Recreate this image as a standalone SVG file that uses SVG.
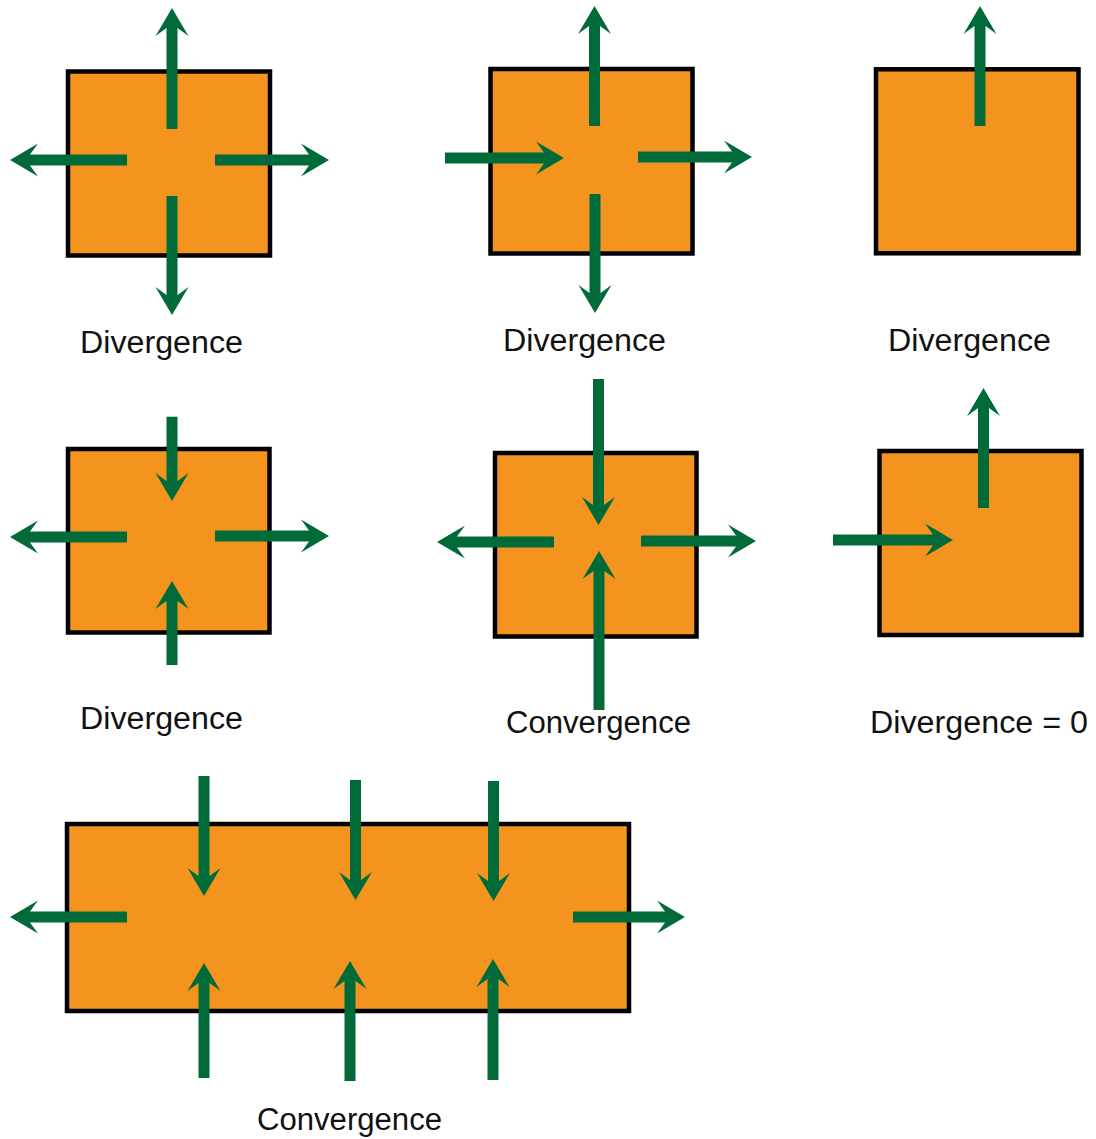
<svg xmlns="http://www.w3.org/2000/svg" width="1096" height="1139" viewBox="0 0 1096 1139">
  <style>
    .box { fill: #f4941f; stroke: #000; stroke-width: 4.5; }
    .lbl { font-family: "Liberation Sans", Arial, sans-serif; font-size: 31px; fill: #111; }
    .flow { stroke: #006b38; stroke-width: 11; stroke-linecap: butt; fill: none; marker-end: url(#head); }
  </style>
  <defs>
    <!-- swept-back arrowhead, tip 16px beyond the line end -->
    <marker id="head" markerUnits="userSpaceOnUse" markerWidth="30" markerHeight="36" viewBox="0 -18 30 36" refX="12" refY="0" orient="auto">
      <path d="M28 0 L0 -16.5 L12 0 L0 16.5 Z" fill="#006b38"/>
    </marker>
  </defs>
  <rect width="1096" height="1139" fill="#fff"/>

  <g id="div-all-out">
    <rect class="box" x="68" y="71.5" width="202" height="184"/>
    <text class="lbl" x="80" y="353" textLength="163" lengthAdjust="spacingAndGlyphs">Divergence</text>
  </g>
  <g id="div-one-in">
    <rect class="box" x="490.5" y="69" width="202" height="184.5"/>
    <text class="lbl" x="503" y="351" textLength="163" lengthAdjust="spacingAndGlyphs">Divergence</text>
  </g>
  <g id="div-one-out">
    <rect class="box" x="876" y="69.3" width="202.5" height="184"/>
    <text class="lbl" x="888" y="351" textLength="163" lengthAdjust="spacingAndGlyphs">Divergence</text>
  </g>
  <g id="div-two-in">
    <rect class="box" x="68" y="449" width="201.5" height="183.5"/>
    <text class="lbl" x="80" y="729" textLength="163" lengthAdjust="spacingAndGlyphs">Divergence</text>
  </g>
  <g id="conv-strong-in">
    <rect class="box" x="495" y="453" width="201.5" height="183.5"/>
    <text class="lbl" x="506" y="733" textLength="185" lengthAdjust="spacingAndGlyphs">Convergence</text>
  </g>
  <g id="div-zero">
    <rect class="box" x="879.5" y="451" width="202" height="184"/>
    <text class="lbl" x="870" y="733" textLength="218" lengthAdjust="spacingAndGlyphs">Divergence = 0</text>
  </g>
  <g id="conv-wide">
    <rect class="box" x="67" y="824" width="562" height="187"/>
    <text class="lbl" x="257" y="1130" textLength="185" lengthAdjust="spacingAndGlyphs">Convergence</text>
  </g>

  <g id="connectors">
    <!-- all outward -->
    <line class="flow" x1="172" y1="129" x2="172" y2="24"/>
    <line class="flow" x1="127" y1="160" x2="26" y2="160"/>
    <line class="flow" x1="215" y1="160" x2="313" y2="160"/>
    <line class="flow" x1="172" y1="196" x2="172" y2="299"/>
    <!-- one in, three out -->
    <line class="flow" x1="594.5" y1="126" x2="594.5" y2="22"/>
    <line class="flow" x1="445" y1="158" x2="548" y2="158"/>
    <line class="flow" x1="638" y1="157" x2="736" y2="157"/>
    <line class="flow" x1="595" y1="194" x2="595" y2="297"/>
    <!-- single outward -->
    <line class="flow" x1="980" y1="126" x2="980" y2="22"/>
    <!-- two short in, two out -->
    <line class="flow" x1="172" y1="416.7" x2="172" y2="485"/>
    <line class="flow" x1="127" y1="537" x2="26" y2="537"/>
    <line class="flow" x1="215" y1="536" x2="313" y2="536"/>
    <line class="flow" x1="172" y1="665" x2="172" y2="597"/>
    <!-- two long in, two out -->
    <line class="flow" x1="598.5" y1="379" x2="598.5" y2="509"/>
    <line class="flow" x1="599" y1="710" x2="599" y2="567"/>
    <line class="flow" x1="554" y1="542" x2="453" y2="542"/>
    <line class="flow" x1="641" y1="541" x2="740" y2="541"/>
    <!-- one in, one out -->
    <line class="flow" x1="983.5" y1="508" x2="983.5" y2="404"/>
    <line class="flow" x1="833" y1="540" x2="937" y2="540"/>
    <!-- wide box -->
    <line class="flow" x1="204" y1="776" x2="204" y2="880"/>
    <line class="flow" x1="355.5" y1="780" x2="355.5" y2="884"/>
    <line class="flow" x1="493.5" y1="781" x2="493.5" y2="885"/>
    <line class="flow" x1="204" y1="1078" x2="204" y2="979"/>
    <line class="flow" x1="350" y1="1081" x2="350" y2="977"/>
    <line class="flow" x1="493" y1="1080" x2="493" y2="975"/>
    <line class="flow" x1="127" y1="917" x2="26" y2="917"/>
    <line class="flow" x1="573" y1="917" x2="669" y2="917"/>
  </g>
</svg>
